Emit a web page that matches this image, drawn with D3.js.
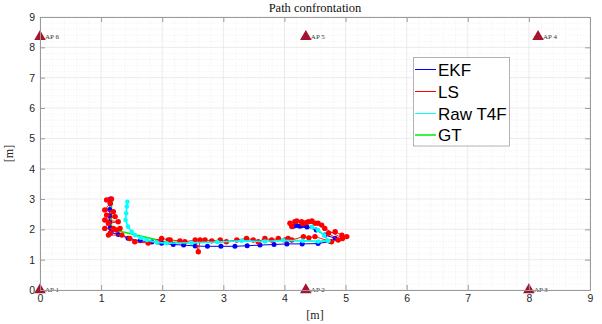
<!DOCTYPE html>
<html><head><meta charset="utf-8">
<script src="https://cdn.jsdelivr.net/npm/d3@7"></script>
<style>
html,body{margin:0;padding:0;background:#fff;}
svg{display:block;}
</style></head>
<body><svg id="c" width="602" height="324"></svg>
<script>
const xTicks = [0,1,2,3,4,5,6,7,8,9];
const yTicks = [0,1,2,3,4,5,6,7,8,9];
const titleText = "Path confrontation";
const xLabel = "[m]";
const yLabel = "[m]";

const apX = [0, 4.35, 8, 8.15, 4.35, 0];
const apY = [0, 0, 0, 8.35, 8.35, 8.35];
const apLabels = ["AP 1","AP 2","AP 3","AP 4","AP 5","AP 6"];

const seriesNames = ["EKF","LS","Raw T4F","GT"];

const ekfX = [1.15,1.15,1.14,1.14,1.14,1.15,1.16,1.28,1.44,1.64,1.83,1.99,2.18,2.35,2.54,2.74,2.96,3.19,3.39,3.6,3.83,4.04,4.29,4.55,4.75,4.83,4.66,4.52,4.37,4.28,4.2,4.15,4.25,4.33];
const ekfY = [3.0,2.85,2.65,2.45,2.25,2.05,1.9,1.83,1.71,1.62,1.58,1.54,1.5,1.48,1.45,1.44,1.44,1.44,1.46,1.48,1.5,1.52,1.52,1.53,1.6,1.71,1.81,1.98,2.08,2.12,2.13,2.1,2.1,2.13];

const lsX = [1.17,1.09,1.15,1.06,1.2,1.09,1.23,1.06,1.28,1.12,1.06,1.2,1.31,1.25,1.15,1.12,1.34,1.47,1.55,1.77,1.93,1.99,2.1,2.13,2.29,2.37,2.54,2.59,2.62,2.7,2.81,2.95,3.05,3.22,3.38,3.49,3.57,3.68,3.79,3.9,4.01,4.06,4.12,4.31,4.4,4.5,4.77,4.88,4.72,4.83,4.94,5.02,4.95,4.66,4.61,4.5,4.39,4.28,4.17,4.09,4.12,4.2,4.35,4.45,4.55,4.3];
const lsY = [3.0,2.97,2.86,2.64,2.58,2.47,2.42,2.31,2.25,2.2,2.03,2.03,2.03,1.98,1.87,1.81,1.81,1.7,1.59,1.55,1.59,1.7,1.65,1.65,1.62,1.59,1.65,1.26,1.65,1.65,1.62,1.65,1.59,1.65,1.7,1.65,1.59,1.7,1.65,1.7,1.65,1.7,1.65,1.76,1.72,1.76,1.59,1.65,1.87,1.92,1.81,1.76,1.7,2.03,2.14,2.2,2.25,2.25,2.25,2.2,2.09,2.28,2.22,2.28,2.2,2.18];

const rawX = [1.43,1.42,1.41,1.40,1.44,1.5,1.55,1.65,1.75,1.91,2.07,2.48,2.9,3.3,3.68,3.98,4.3,4.55,4.72,4.65,4.55,4.45];
const rawY = [2.91,2.75,2.53,2.31,2.09,1.92,1.81,1.72,1.65,1.57,1.54,1.56,1.58,1.62,1.6,1.64,1.62,1.6,1.62,1.8,1.98,2.08];

const gtX = [1.17,1.17,2.07,2.48,2.9,3.3,3.68,3.98,4.3,4.55,4.72,4.65,4.55,4.45];
const gtY = [3.0,2.0,1.58,1.56,1.58,1.62,1.6,1.64,1.62,1.6,1.62,1.8,1.98,2.08];

const svg = d3.select("#c");
const L=40,R=590,T=17,B=290;
const x = d3.scaleLinear().domain([0,9]).range([L,R]);
const y = d3.scaleLinear().domain([0,9]).range([B,T]);

// minor grid
const minor = d3.range(0,9.001,0.2).filter(v=>Math.abs(v-Math.round(v))>1e-6);
const g = svg.append("g");
g.selectAll(".mx").data(minor).join("line")
  .attr("x1",d=>x(d)).attr("x2",d=>x(d)).attr("y1",T).attr("y2",B)
  .attr("stroke","#ececec").attr("stroke-width",0.6).attr("stroke-dasharray","1.5,1.5");
g.selectAll(".my").data(minor).join("line")
  .attr("y1",d=>y(d)).attr("y2",d=>y(d)).attr("x1",L).attr("x2",R)
  .attr("stroke","#ececec").attr("stroke-width",0.6).attr("stroke-dasharray","1.5,1.5");
// major grid
g.selectAll(".gx").data(xTicks).join("line")
  .attr("x1",d=>x(d)).attr("x2",d=>x(d)).attr("y1",T).attr("y2",B)
  .attr("stroke","#e3e3e3").attr("stroke-width",0.7);
g.selectAll(".gy").data(yTicks).join("line")
  .attr("y1",d=>y(d)).attr("y2",d=>y(d)).attr("x1",L).attr("x2",R)
  .attr("stroke","#e3e3e3").attr("stroke-width",0.7);

// series
function series(xs, ys, color, width, r){
  const pts = xs.map((v,i)=>[v,ys[i]]);
  const line = d3.line().x(d=>x(d[0])).y(d=>y(d[1]));
  svg.append("path").datum(pts).attr("d",line).attr("fill","none")
    .attr("stroke",color).attr("stroke-width",width);
  if(r>0){
    svg.append("g").selectAll("circle").data(pts).join("circle")
      .attr("cx",d=>x(d[0])).attr("cy",d=>y(d[1])).attr("r",r).attr("fill",color);
  }
}
series(gtX,gtY,"#00ee00",1.5,0);
series(ekfX,ekfY,"#0000ff",1,2.5);
series(lsX,lsY,"#ff0000",0.9,2.7);
series(rawX,rawY,"#00ffff",1.6,2.3);

// APs
const apColor = "#a2142f";
const tri = d3.symbol().type(d3.symbolTriangle).size(58);
apX.forEach((v,i)=>{
  svg.append("path").attr("d",tri).attr("transform",`translate(${x(v)},${y(apY[i])})`)
    .attr("fill",apColor);
  svg.append("text").attr("x",x(v)+5).attr("y",y(apY[i])+2)
    .attr("font-family","Liberation Serif, DejaVu Serif, serif").attr("font-size",7)
    .attr("fill","#333").text(apLabels[i]);
});

// axes
const axCol = "#9a9a9a";
const font = "Liberation Sans, Arial, Helvetica, sans-serif";
const ax = svg.append("g").attr("transform",`translate(0,${B})`)
  .call(d3.axisBottom(x).tickValues(xTicks).tickSize(-5).tickSizeOuter(0).tickPadding(5).tickFormat(d3.format("d")));
const ay = svg.append("g").attr("transform",`translate(${L},0)`)
  .call(d3.axisLeft(y).tickValues(yTicks).tickSize(-5).tickSizeOuter(0).tickPadding(5).tickFormat(d3.format("d")));
const at = svg.append("g").attr("transform",`translate(0,${T})`)
  .call(d3.axisTop(x).tickValues(xTicks).tickSize(-5).tickSizeOuter(0).tickFormat(""));
const ar = svg.append("g").attr("transform",`translate(${R},0)`)
  .call(d3.axisRight(y).tickValues(yTicks).tickSize(-5).tickSizeOuter(0).tickFormat(""));
[ax,ay,at,ar].forEach(a=>{
  a.selectAll("path").attr("stroke",axCol);
  a.selectAll("line").attr("stroke",axCol);
  a.selectAll("text").attr("fill","#262626").attr("font-family",font).attr("font-size",10.5);
});

// title & labels
const serif = "Liberation Serif, DejaVu Serif, serif";
svg.append("text").attr("x",(L+R)/2).attr("y",12).attr("text-anchor","middle")
  .attr("font-family",serif).attr("font-size",12.5).attr("fill","#111").text(titleText);
svg.append("text").attr("x",(L+R)/2).attr("y",319).attr("text-anchor","middle")
  .attr("font-family",serif).attr("font-size",12).attr("fill","#222").text(xLabel);
svg.append("text").attr("transform",`translate(13,${(T+B)/2}) rotate(-90)`).attr("text-anchor","middle")
  .attr("font-family",serif).attr("font-size",12).attr("fill","#222").text(yLabel);

// legend
const legColors = ["#0000ff","#ff0000","#00ffff","#00ee00"];
const legWidths = [1,1,1,1.5];
const lg = svg.append("g");
lg.append("rect").attr("x",413.5).attr("y",57.5).attr("width",96).attr("height",88.5)
  .attr("fill","#fff").attr("stroke","#a0a0a0").attr("stroke-width",0.8);
const legY = [69.5,91.5,113.5,135];
seriesNames.forEach((n,i)=>{
  lg.append("line").attr("x1",415).attr("x2",436).attr("y1",legY[i]).attr("y2",legY[i])
    .attr("stroke",legColors[i]).attr("stroke-width",legWidths[i]);
  lg.append("text").attr("x",438).attr("y",legY[i]+6).attr("font-family",font)
    .attr("font-size",17).attr("fill","#000").text(n);
});
</script></body></html>
